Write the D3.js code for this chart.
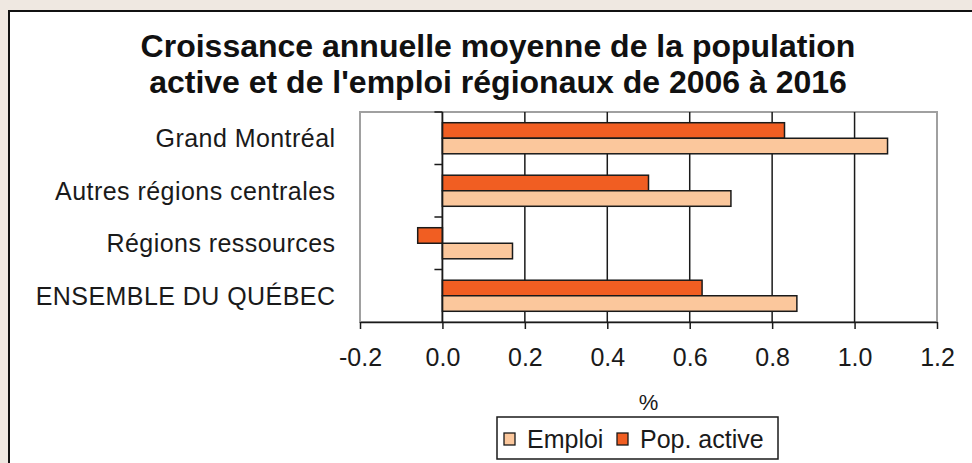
<!DOCTYPE html>
<html>
<head>
<meta charset="utf-8">
<script src="https://cdn.jsdelivr.net/npm/d3@7"></script>
<style>
  body { margin: 0; background: #efe8e1; }
  svg { display: block; font-family: "Liberation Sans", Arial, sans-serif; }
</style>
</head>
<body>
<div id="graph1"></div>
<script>
// data
const categories = ["Grand Montréal", "Autres régions centrales", "Régions ressources", "ENSEMBLE DU QUÉBEC"];
const series = ["Pop. active", "Emploi"];
const emploi = [1.08, 0.70, 0.17, 0.86];
const popActive = [0.83, 0.50, -0.06, 0.63];
const xTicks = [-0.2, 0.0, 0.2, 0.4, 0.6, 0.8, 1.0, 1.2];
const legendItems = ["Emploi", "Pop. active"];
const titleLines = ["Croissance annuelle moyenne de la population", "active et de l'emploi régionaux de 2006 à 2016"];

const width = 972, height = 463;
const plot = {left: 360, right: 937, top: 112, bottom: 322};
const colors = {"Pop. active": "#f15e22", "Emploi": "#fbc79c"};

let svg = d3.select("#graph1")
    .append("svg")
    .attr("width", width)
    .attr("height", height);

// white panel with black frame, runs off the right and bottom edges
svg.append("rect")
    .attr("x", 9).attr("y", 11)
    .attr("width", width + 20).attr("height", height + 20)
    .attr("fill", "#fff")
    .attr("stroke", "#111")
    .attr("stroke-width", 2);

let x = d3.scaleLinear()
    .domain([-0.2, 1.2])
    .range([plot.left, plot.right]);

let y = d3.scaleBand()
    .domain(categories)
    .range([plot.top, plot.bottom]);

let ySub = d3.scaleBand()
    .domain(series)
    .range([0, y.bandwidth()])
    .paddingInner(0)
    .paddingOuter(0.69);

// title
svg.append("g")
    .selectAll("text")
    .data(titleLines)
    .enter()
    .append("text")
    .attr("x", 498)
    .attr("y", (d, i) => 57 + i * 35.5)
    .style("text-anchor", "middle")
    .style("font-size", "32px")
    .style("font-weight", "bold")
    .attr("fill", "#111")
    .text(d => d);

// plot area border
svg.append("rect")
    .attr("x", x(-0.2))
    .attr("y", plot.top)
    .attr("width", x(1.2) - x(-0.2))
    .attr("height", plot.bottom - plot.top)
    .attr("fill", "none")
    .attr("stroke", "#a0a0a0")
    .attr("stroke-width", 2);

// vertical gridlines
svg.append("g")
    .selectAll("line")
    .data(xTicks.filter(d => d > -0.2 && d < 1.2))
    .enter()
    .append("line")
    .attr("x1", d => x(d)).attr("x2", d => x(d))
    .attr("y1", plot.top).attr("y2", plot.bottom)
    .attr("stroke", "#1a1a1a")
    .attr("stroke-width", 1.5);

// bars
let rows = [];
categories.forEach(function (c, i) {
    rows.push({cat: c, key: "Pop. active", value: popActive[i]});
    rows.push({cat: c, key: "Emploi", value: emploi[i]});
});

svg.append("g")
    .selectAll("rect")
    .data(rows)
    .enter()
    .append("rect")
    .attr("x", d => x(Math.min(0, d.value)))
    .attr("y", d => y(d.cat) + ySub(d.key))
    .attr("width", d => Math.abs(x(d.value) - x(0)))
    .attr("height", ySub.bandwidth())
    .attr("fill", d => colors[d.key])
    .attr("stroke", "#1a1a1a")
    .attr("stroke-width", 1.5);

// y axis at zero with ticks between categories
let yAxis = svg.append("g");
yAxis.append("line")
    .attr("x1", x(0)).attr("x2", x(0))
    .attr("y1", plot.top).attr("y2", plot.bottom)
    .attr("stroke", "#1a1a1a")
    .attr("stroke-width", 1.5);
yAxis.selectAll(".cat-tick")
    .data(categories)
    .enter()
    .append("line")
    .attr("class", "cat-tick")
    .attr("x1", x(0) - 8).attr("x2", x(0))
    .attr("y1", d => y(d)).attr("y2", d => y(d))
    .attr("stroke", "#1a1a1a")
    .attr("stroke-width", 1.5);

// category labels
svg.append("g")
    .selectAll("text")
    .data(categories)
    .enter()
    .append("text")
    .attr("x", 335.5)
    .attr("y", d => y(d) + y.bandwidth() / 2)
    .attr("dy", "0.35em")
    .style("text-anchor", "end")
    .style("font-size", "25px")
    .style("letter-spacing", "0.45px")
    .attr("fill", "#1a1a1a")
    .text(d => d);

// x axis
let xAxis = svg.append("g")
    .attr("transform", `translate(0,${plot.bottom})`)
    .call(d3.axisBottom(x)
        .tickValues(xTicks)
        .tickSize(7)
        .tickSizeOuter(0)
        .tickPadding(19)
        .tickFormat(d => d.toFixed(1)));
xAxis.select(".domain").attr("stroke", "#1a1a1a").attr("stroke-width", 1.5);
xAxis.selectAll(".tick line").attr("stroke", "#1a1a1a").attr("stroke-width", 1.5);
xAxis.selectAll(".tick text")
    .style("font-size", "25px")
    .style("font-family", "'Liberation Sans', Arial, sans-serif")
    .attr("fill", "#1a1a1a");

// axis title
svg.append("text")
    .attr("x", (plot.left + plot.right) / 2)
    .attr("y", 410)
    .style("text-anchor", "middle")
    .style("font-size", "22px")
    .attr("fill", "#1a1a1a")
    .text("%");

// legend
let legend = svg.append("g");
legend.append("rect")
    .attr("x", 497).attr("y", 417)
    .attr("width", 281).attr("height", 42)
    .attr("fill", "#fff")
    .attr("stroke", "#1a1a1a")
    .attr("stroke-width", 1.5);

let legendX = [504, 617];
let legendItem = legend.selectAll(".item")
    .data(legendItems)
    .enter()
    .append("g")
    .attr("class", "item")
    .attr("transform", (d, i) => `translate(${legendX[i]},433)`);
legendItem.append("rect")
    .attr("width", 11).attr("height", 12)
    .attr("fill", d => colors[d])
    .attr("stroke", "#1a1a1a")
    .attr("stroke-width", 1.3);
legendItem.append("text")
    .attr("x", 23)
    .attr("y", 6)
    .attr("dy", "0.35em")
    .style("font-size", "25px")
    .attr("fill", "#1a1a1a")
    .text(d => d);
</script>
</body>
</html>
